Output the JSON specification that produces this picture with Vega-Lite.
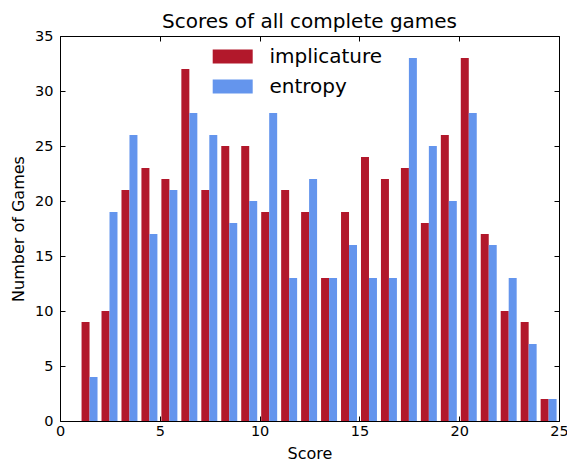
{
  "$schema": "https://vega.github.io/schema/vega-lite/v6.json",
  "width": 499,
  "height": 385,
  "autosize": {"type": "none"},
  "padding": {"left": 60, "top": 36, "right": 8, "bottom": 40},
  "background": "white",
  "config": {
    "font": "DejaVu Sans",
    "view": {"stroke": "black", "strokeWidth": 1},
    "axis": {
      "grid": false,
      "domain": false,
      "labelFlush": false,
      "tickColor": "black",
      "tickSize": -5,
      "tickWidth": 1,
      "labelColor": "black",
      "titleColor": "black",
      "labelFont": "DejaVu Sans",
      "titleFont": "DejaVu Sans",
      "labelFontSize": 14.5,
      "titleFontSize": 16,
      "titleFontWeight": "normal"
    }
  },
  "title": {
    "text": "Scores of all complete games",
    "font": "DejaVu Sans",
    "fontSize": 20,
    "fontWeight": "normal",
    "color": "black",
    "baseline": "alphabetic",
    "offset": 6,
    "dy": 26
  },
  "data": {
    "values": [
      {"score": 1, "series": "implicature", "count": 9},
      {"score": 1, "series": "entropy", "count": 4},
      {"score": 2, "series": "implicature", "count": 10},
      {"score": 2, "series": "entropy", "count": 19},
      {"score": 3, "series": "implicature", "count": 21},
      {"score": 3, "series": "entropy", "count": 26},
      {"score": 4, "series": "implicature", "count": 23},
      {"score": 4, "series": "entropy", "count": 17},
      {"score": 5, "series": "implicature", "count": 22},
      {"score": 5, "series": "entropy", "count": 21},
      {"score": 6, "series": "implicature", "count": 32},
      {"score": 6, "series": "entropy", "count": 28},
      {"score": 7, "series": "implicature", "count": 21},
      {"score": 7, "series": "entropy", "count": 26},
      {"score": 8, "series": "implicature", "count": 25},
      {"score": 8, "series": "entropy", "count": 18},
      {"score": 9, "series": "implicature", "count": 25},
      {"score": 9, "series": "entropy", "count": 20},
      {"score": 10, "series": "implicature", "count": 19},
      {"score": 10, "series": "entropy", "count": 28},
      {"score": 11, "series": "implicature", "count": 21},
      {"score": 11, "series": "entropy", "count": 13},
      {"score": 12, "series": "implicature", "count": 19},
      {"score": 12, "series": "entropy", "count": 22},
      {"score": 13, "series": "implicature", "count": 13},
      {"score": 13, "series": "entropy", "count": 13},
      {"score": 14, "series": "implicature", "count": 19},
      {"score": 14, "series": "entropy", "count": 16},
      {"score": 15, "series": "implicature", "count": 24},
      {"score": 15, "series": "entropy", "count": 13},
      {"score": 16, "series": "implicature", "count": 22},
      {"score": 16, "series": "entropy", "count": 13},
      {"score": 17, "series": "implicature", "count": 23},
      {"score": 17, "series": "entropy", "count": 33},
      {"score": 18, "series": "implicature", "count": 18},
      {"score": 18, "series": "entropy", "count": 25},
      {"score": 19, "series": "implicature", "count": 26},
      {"score": 19, "series": "entropy", "count": 20},
      {"score": 20, "series": "implicature", "count": 33},
      {"score": 20, "series": "entropy", "count": 28},
      {"score": 21, "series": "implicature", "count": 17},
      {"score": 21, "series": "entropy", "count": 16},
      {"score": 22, "series": "implicature", "count": 10},
      {"score": 22, "series": "entropy", "count": 13},
      {"score": 23, "series": "implicature", "count": 9},
      {"score": 23, "series": "entropy", "count": 7},
      {"score": 24, "series": "implicature", "count": 2},
      {"score": 24, "series": "entropy", "count": 2}
    ]
  },
  "transform": [
    {"calculate": "datum.score + (datum.series === 'implicature' ? 0.08 : 0.48)", "as": "x0"},
    {"calculate": "datum.x0 + 0.4", "as": "x1"}
  ],
  "layer": [
    {
      "mark": {"type": "bar", "orient": "vertical"},
      "encoding": {
        "x": {
          "field": "x0",
          "type": "quantitative",
          "scale": {"domain": [0, 25], "nice": false, "zero": false, "padding": 0},
          "axis": {
            "orient": "bottom",
            "values": [0, 5, 10, 15, 20, 25],
            "title": "Score",
            "labelPadding": 8,
            "titleY": 37,
            "titleBaseline": "alphabetic"
          }
        },
        "x2": {"field": "x1"},
        "y": {
          "field": "count",
          "type": "quantitative",
          "scale": {"domain": [0, 35], "nice": false, "padding": 0},
          "axis": {
            "orient": "left",
            "values": [0, 5, 10, 15, 20, 25, 30, 35],
            "title": "Number of Games",
            "labelPadding": 12,
            "titleX": -42,
            "titleY": 192.5,
            "titleAngle": -90,
            "titleAlign": "center",
            "titleBaseline": "middle"
          }
        },
        "y2": {"datum": 0},
        "color": {
          "field": "series",
          "type": "nominal",
          "scale": {"domain": ["implicature", "entropy"], "range": ["#b2182b", "#6495ed"]},
          "legend": {
            "orient": "none",
            "legendX": 162.7,
            "legendY": 10.5,
            "title": null,
            "padding": 0,
            "symbolType": "M-2,-0.7H2V0.7H-2Z",
            "symbolSize": 400,
            "symbolStrokeWidth": 0,
            "symbolOpacity": 1,
            "labelFont": "DejaVu Sans",
            "labelFontSize": 20,
            "labelColor": "black",
            "labelOffset": 26.7,
            "rowPadding": 10,
            "labelLimit": 300
          }
        }
      }
    },
    {
      "mark": {"type": "bar", "orient": "vertical", "opacity": 0},
      "encoding": {
        "x": {
          "field": "x0",
          "type": "quantitative",
          "axis": {"orient": "top", "values": [0, 5, 10, 15, 20, 25], "labels": false, "title": null, "minExtent": 0, "maxExtent": 0}
        },
        "x2": {"field": "x1"},
        "y": {
          "field": "count",
          "type": "quantitative",
          "axis": {"orient": "right", "values": [0, 5, 10, 15, 20, 25, 30, 35], "labels": false, "title": null, "minExtent": 0, "maxExtent": 0}
        },
        "y2": {"datum": 0}
      }
    }
  ]
}
